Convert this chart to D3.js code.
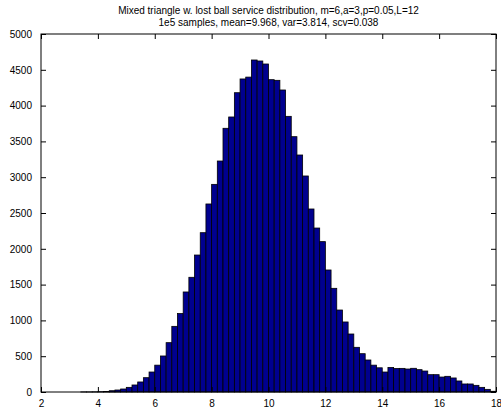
<!DOCTYPE html>
<html>
<head>
<meta charset="utf-8">
<script src="https://cdn.jsdelivr.net/npm/d3@7"></script>
<style>
  body { margin: 0; background: #fff; }
  text { font-family: "Liberation Sans", Arial, sans-serif; }
</style>
</head>
<body>
<div id="chart"></div>
<script>
// histogram, bin width 0.2 from 2 to 18
const binStart = 2, binWidth = 0.2;
const counts = [
    0, 0, 0, 0, 0, 0, 0, 1, 1, 2,                          // 2.0 - 4.0
    4, 8, 18, 28, 42, 65, 98, 140, 200, 279,               // 4.0 - 6.0
    375, 503, 689, 917, 1095, 1397, 1602, 1913, 2225, 2626, // 6.0 - 8.0
    2900, 3226, 3683, 3841, 4180, 4372, 4398, 4637, 4623, 4581, // 8.0 - 10.0
    4362, 4353, 4218, 3850, 3566, 3310, 3017, 2556, 2290, 2100, // 10.0 - 12.0
    1704, 1448, 1145, 978, 810, 624, 535, 447, 375, 338,   // 12.0 - 14.0
    279, 343, 328, 330, 321, 331, 312, 293, 242, 242,      // 14.0 - 16.0
    209, 219, 196, 154, 112, 112, 93, 65, 37, 10           // 16.0 - 18.0
];
const xTicks = [2, 4, 6, 8, 10, 12, 14, 16, 18];
const yTicks = [0, 500, 1000, 1500, 2000, 2500, 3000, 3500, 4000, 4500, 5000];
const titleLines = [
    "Mixed triangle w. lost ball service distribution, m=6,a=3,p=0.05,L=12",
    "1e5 samples, mean=9.968, var=3.814, scv=0.038"
];

const bins = counts.map((c, i) => ({
    x0: binStart + i * binWidth,
    x1: binStart + (i + 1) * binWidth,
    count: c
}));

const W = 501, H = 410;
const margin = {top: 34, right: 5, bottom: 18, left: 41};
const width = W - margin.left - margin.right,
    height = H - margin.top - margin.bottom;

const svg = d3.select("#chart").append("svg")
    .attr("width", W)
    .attr("height", H);

const g = svg.append("g")
    .attr("transform", `translate(${margin.left},${margin.top})`);

const x = d3.scaleLinear().domain([2, 18]).range([0, width]);
const y = d3.scaleLinear().domain([0, 5000]).range([height, 0]);

// 柱子
g.selectAll(".bar")
    .data(bins)
    .enter().append("rect")
    .attr("class", "bar")
    .attr("x", d => x(d.x0))
    .attr("y", d => y(d.count))
    .attr("width", d => x(d.x1) - x(d.x0))
    .attr("height", d => y(0) - y(d.count))
    .attr("fill", "#00008f")
    .attr("stroke", "#000")
    .attr("stroke-width", 0.8);

// 坐标轴 (ticks inward, MATLAB style)
const tickLen = 5;
const axisStyle = sel => {
    sel.select(".domain").remove();
    sel.selectAll("line").attr("stroke", "#000");
    sel.selectAll("text").style("font-size", "10px").attr("fill", "#000");
};

g.append("g")
    .attr("transform", `translate(0,${height})`)
    .call(d3.axisBottom(x).tickValues(xTicks).tickSizeInner(-tickLen).tickSizeOuter(0).tickPadding(tickLen + 3))
    .call(axisStyle);

g.append("g")
    .call(d3.axisTop(x).tickValues(xTicks).tickSizeInner(-tickLen).tickSizeOuter(0).tickFormat(""))
    .call(axisStyle);

g.append("g")
    .call(d3.axisLeft(y).tickValues(yTicks).tickFormat(d3.format("d")).tickSizeInner(-tickLen).tickSizeOuter(0).tickPadding(tickLen + 4))
    .call(axisStyle);

g.append("g")
    .attr("transform", `translate(${width},0)`)
    .call(d3.axisRight(y).tickValues(yTicks).tickSizeInner(-tickLen).tickSizeOuter(0).tickFormat(""))
    .call(axisStyle);

// 边框
g.append("rect")
    .attr("width", width)
    .attr("height", height)
    .attr("fill", "none")
    .attr("stroke", "#000")
    .attr("stroke-width", 1);

// 标题
svg.selectAll(".title")
    .data(titleLines)
    .enter().append("text")
    .attr("class", "title")
    .attr("x", margin.left + width / 2)
    .attr("y", (d, i) => 14 + i * 11.5)
    .attr("text-anchor", "middle")
    .style("font-size", "10px")
    .text(d => d);
</script>
</body>
</html>
